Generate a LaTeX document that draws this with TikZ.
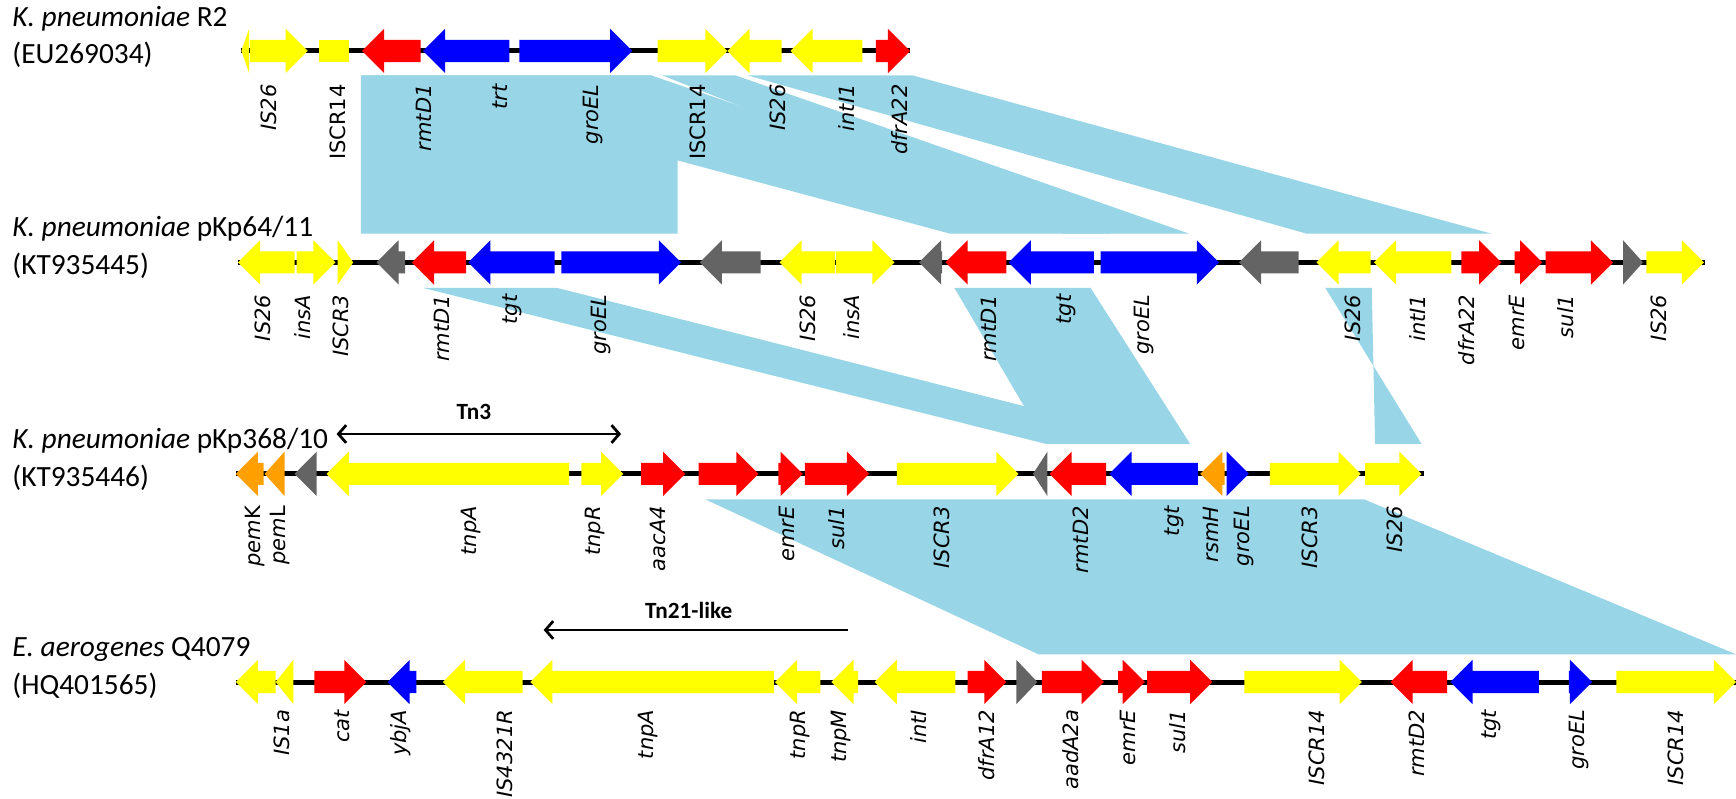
\documentclass[tikz,border=0pt]{standalone}
\usepackage{fontspec}
\setmainfont{Carlito}
\newfontfamily\dvs{DejaVu Sans}
\usetikzlibrary{arrows.meta}
\definecolor{gy}{RGB}{255,255,0}
\definecolor{rd}{RGB}{255,0,0}
\definecolor{bl}{RGB}{0,0,255}
\definecolor{gr}{RGB}{100,100,100}
\definecolor{og}{RGB}{255,160,0}
\definecolor{band}{RGB}{152,213,230}
\newcommand\geneR[4]{%
  \pgfmathsetmacro\hx{max(#1,#2-20)}%
  \fill[#4] (#1,#3-10) -- (\hx,#3-10) -- (\hx,#3-20) -- (#2,#3) -- (\hx,#3+20) -- (\hx,#3+10) -- (#1,#3+10) -- cycle;}
\newcommand\geneL[4]{%
  \pgfmathsetmacro\hx{min(#2,#1+20)}%
  \fill[#4] (#2,#3-10) -- (\hx,#3-10) -- (\hx,#3-20) -- (#1,#3) -- (\hx,#3+20) -- (\hx,#3+10) -- (#2,#3+10) -- cycle;}
\newcounter{labno}
\newcommand\glab[3]{\stepcounter{labno}\node[glab] (lab\arabic{labno}) at (#1,#2) {#3};}
\newcommand\glabu[3]{\stepcounter{labno}\node[glabu] (lab\arabic{labno}) at (#1,#2) {#3};}
\begin{document}
\begin{tikzpicture}[x=1pt,y=-1pt,
  glab/.style={rotate=90,anchor=east,inner sep=0pt,font=\dvs\itshape\fontsize{19}{21}\selectfont},
  glabu/.style={rotate=90,anchor=east,inner sep=0pt,font=\dvs\fontsize{19}{21}\selectfont},
  title/.style={anchor=base west,inner sep=0pt,font=\fontsize{26.5}{31}\selectfont},
  tnlab/.style={inner sep=0pt,font=\bfseries\fontsize{21}{23}\selectfont},
  backbone/.style={line width=4.5pt,black},
  bandfill/.style={fill=band},
  tnarrow/.style={line width=2.5pt,{Straight Barb[length=7pt,width=16pt]}-{Straight Barb[length=7pt,width=16pt]}},
  tnarrowl/.style={line width=2.5pt,{Straight Barb[length=7pt,width=16pt]}-}]
\useasboundingbox (0,0) rectangle (1568,721);
% ---- comparison bands ----
\fill[bandfill] (326,68) -- (588,68) -- (612,100) -- (612,211) -- (326,211) -- cycle;
\fill[bandfill] (326,68) -- (588,68) -- (1003,211) -- (858,211) -- cycle;
\fill[bandfill] (598,68) -- (664,68) -- (1074,211) -- (960,211) -- cycle;
\fill[bandfill] (675,68) -- (824,68) -- (1347,211) -- (1180,211) -- cycle;
\fill[bandfill] (382,260) -- (503,260) -- (1060,401) -- (945,401) -- cycle;
\fill[bandfill] (862,260) -- (985,260) -- (1075,401) -- (945,401) -- cycle;
\fill[bandfill] (1197,260) -- (1239,260) -- (1242,401) -- (1284,401) -- cycle;
\fill[bandfill] (637,451) -- (1232,451) -- (1568,591) -- (938,591) -- cycle;
% ---- backbones ----
\draw[backbone] (218,46) -- (822,46);
\draw[backbone] (215,237) -- (1540,237);
\draw[backbone] (213,428) -- (1286,428);
\draw[backbone] (213,616) -- (1568,616);
% ---- row 1 ----
\geneL{218}{225}{46}{gy}
\geneR{226}{278}{46}{gy}
\fill[gy] (288,36) rectangle (315,56);
\geneL{327}{380}{46}{rd}
\geneL{382}{460}{46}{bl}
\geneR{469}{571}{46}{bl}
\geneR{594}{657}{46}{gy}
\geneL{657}{706}{46}{gy}
\geneL{714}{779}{46}{gy}
\geneR{791}{822}{46}{rd}
% ---- row 2 ----
\geneL{215}{266}{237}{gy}
\geneR{268}{303}{237}{gy}
\geneR{305}{319}{237}{gy}
\geneL{340}{366}{237}{gr}
\geneL{372}{421}{237}{rd}
\geneL{423}{501}{237}{bl}
\geneR{507}{615}{237}{bl}
\geneL{632}{687}{237}{gr}
\geneL{704}{754}{237}{gy}
\geneR{755}{808}{237}{gy}
\geneL{830}{851}{237}{gr}
\geneL{854}{909}{237}{rd}
\geneL{911}{988}{237}{bl}
\geneR{994}{1101}{237}{bl}
\geneL{1119}{1173}{237}{gr}
\geneL{1189}{1238}{237}{gy}
\geneL{1241}{1311}{237}{gy}
\geneR{1320}{1356}{237}{rd}
\geneR{1368}{1393}{237}{rd}
\geneR{1396}{1457}{237}{rd}
\geneR{1466}{1484}{237}{gr}
\geneR{1487}{1539}{237}{gy}
% ---- row 3 ----
\geneL{213}{238}{428}{og}
\geneL{239}{257}{428}{og}
\geneL{266}{286}{428}{gr}
\geneL{295}{514}{428}{gy}
\geneR{525}{563}{428}{gy}
\geneR{579}{619}{428}{rd}
\geneR{631}{685}{428}{rd}
\geneR{703}{725}{428}{rd}
\geneR{727}{785}{428}{rd}
\geneR{810}{920}{428}{gy}
\geneL{933}{946}{428}{gr}
\geneL{948}{999}{428}{rd}
\geneL{1002}{1082}{428}{bl}
\geneL{1084}{1106}{428}{og}
\geneR{1108}{1128}{428}{bl}
\geneR{1147}{1229}{428}{gy}
\geneR{1233}{1284}{428}{gy}
% ---- row 4 ----
\geneL{213}{249}{616}{gy}
\geneL{249}{265}{616}{gy}
\geneR{284}{331}{616}{rd}
\geneL{350}{376}{616}{bl}
\geneL{400}{472}{616}{gy}
\geneL{479}{699}{616}{gy}
\geneL{700}{741}{616}{gy}
\geneL{751}{775}{616}{gy}
\geneL{790}{863}{616}{gy}
\geneR{874}{909}{616}{rd}
\geneR{918}{937}{616}{gr}
\geneR{941}{997}{616}{rd}
\geneR{1010}{1034}{616}{rd}
\geneR{1036}{1095}{616}{rd}
\geneR{1124}{1230}{616}{gy}
\geneL{1256}{1307}{616}{rd}
\geneL{1310}{1390}{616}{bl}
\geneR{1417}{1438}{616}{bl}
\geneR{1460}{1568}{616}{gy}
% ---- labels row 1 ----
\glab{243}{76}{IS26}
\glabu{305}{76}{ISCR14}
\glab{383}{76}{rmtD1}
\glab{452}{76}{trt}
\glab{536}{76}{groEL}
\glabu{630}{76}{ISCR14}
\glab{703}{76}{IS26}
\glab{765}{76}{intI1}
\glab{813}{76}{dfrA22}
% ---- labels row 2 ----
\glab{237}{266}{IS26}
\glab{273}{266}{insA}
\glab{308}{266}{ISCR3}
\glab{399}{266}{rmtD1}
\glab{463}{266}{tgt}
\glab{543}{266}{groEL}
\glab{730}{266}{IS26}
\glab{769}{266}{insA}
\glab{893}{266}{rmtD1}
\glab{963}{266}{tgt}
\glab{1033}{266}{groEL}
\glab{1222}{266}{IS26}
\glab{1280}{266}{intI1}
\glab{1325}{266}{dfrA22}
\glab{1370}{266}{emrE}
\glab{1414}{266}{sul1}
\glab{1498}{266}{IS26}
% ---- labels row 3 ----
\glabu{230}{457}{\textit{pem}K}
\glabu{253}{457}{\textit{pem}L}
\glab{425}{457}{tnpA}
\glab{537}{457}{tnpR}
\glab{594}{457}{aacA4}
\glab{711}{457}{emrE}
\glab{756}{457}{sul1}
\glab{851}{457}{ISCR3}
\glab{976}{457}{rmtD2}
\glab{1061}{457}{tgt}
\glab{1094}{457}{rsmH}
\glab{1124}{457}{groEL}
\glab{1183}{457}{ISCR3}
\glab{1260}{457}{IS26}
% ---- labels row 4 ----
\glab{255}{641}{IS1a}
\glab{309}{641}{cat}
\glab{362}{641}{ybjA}
\glab{456}{641}{IS4321R}
\glab{585}{641}{tnpA}
\glab{723}{641}{tnpR}
\glab{760}{641}{tnpM}
\glab{830}{641}{intI}
\glab{891}{641}{dfrA12}
\glab{967}{641}{aadA2a}
\glab{1019}{641}{emrE}
\glab{1064}{641}{sul1}
\glab{1189}{641}{ISCR14}
\glab{1280}{641}{rmtD2}
\glab{1347}{641}{tgt}
\glab{1426}{641}{groEL}
\glab{1514}{641}{ISCR14}
% ---- titles ----
\node[title] (t1a) at (11,24) {\textit{K. pneumoniae} R2};
\node[title] (t1b) at (11,57) {(EU269034)};
\node[title] (t2a) at (11,214) {\textit{K. pneumoniae} pKp64/11};
\node[title] (t2b) at (11,248) {(KT935445)};
\node[title] (t3a) at (11,405) {\textit{K. pneumoniae} pKp368/10};
\node[title] (t3b) at (11,439) {(KT935446)};
\node[title] (t4a) at (11,593) {\textit{E. aerogenes} Q4079};
\node[title] (t4b) at (11,627) {(HQ401565)};
% ---- transposon markers ----
\coordinate (tn3l) at (304,392);
\coordinate (tn3r) at (561,392);
\draw[tnarrow] (tn3l) -- (tn3r);
\node[tnlab] (tn3t) at (428,372) {Tn3};
\coordinate (tn21l) at (491,569);
\coordinate (tn21r) at (766,569);
\draw[tnarrowl] (tn21l) -- (tn21r);
\node[tnlab] (tn21t) at (622,551) {Tn21-like};
\end{tikzpicture}
\end{document}
